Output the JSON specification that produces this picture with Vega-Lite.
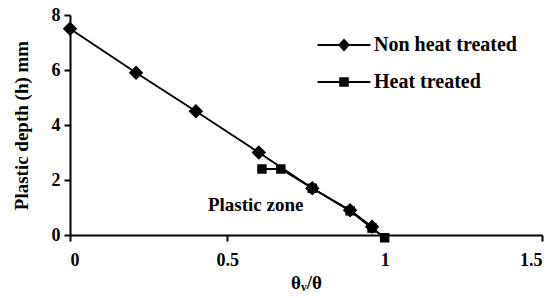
{
  "$schema": "https://vega.github.io/schema/vega-lite/v6.json",
  "width": 472,
  "height": 220,
  "autosize": {"type": "none"},
  "padding": {"left": 70, "top": 15, "right": 16, "bottom": 63},
  "background": "white",
  "config": {
    "view": {"stroke": null},
    "font": "Liberation Serif",
    "axis": {
      "grid": false,
      "domainColor": "black",
      "domainWidth": 2,
      "tickColor": "black",
      "tickWidth": 2,
      "tickSize": 6,
      "labelFont": "Liberation Serif",
      "labelFontWeight": "bold",
      "labelFontSize": 18,
      "labelColor": "black",
      "titleFont": "Liberation Serif",
      "titleFontWeight": "bold",
      "titleFontSize": 19,
      "titleColor": "black"
    }
  },
  "datasets": {
    "main": [
      {"series": "Non heat treated", "x": 0.0, "y": 7.5},
      {"series": "Non heat treated", "x": 0.21, "y": 5.9},
      {"series": "Non heat treated", "x": 0.4, "y": 4.5},
      {"series": "Non heat treated", "x": 0.6, "y": 3.0},
      {"series": "Non heat treated", "x": 0.77, "y": 1.7},
      {"series": "Non heat treated", "x": 0.89, "y": 0.9},
      {"series": "Non heat treated", "x": 0.96, "y": 0.3},
      {"series": "Heat treated", "x": 0.61, "y": 2.4},
      {"series": "Heat treated", "x": 0.67, "y": 2.4},
      {"series": "Heat treated", "x": 0.77, "y": 1.7},
      {"series": "Heat treated", "x": 0.89, "y": 0.88},
      {"series": "Heat treated", "x": 0.96, "y": 0.25},
      {"series": "Heat treated", "x": 1.0, "y": -0.1}
    ],
    "notes": [
      {"x": 0.59, "y": 1.1, "label": "Plastic zone"}
    ]
  },
  "layer": [
    {
      "data": {"name": "main"},
      "mark": {"type": "line", "color": "black", "strokeWidth": 2},
      "encoding": {
        "x": {"field": "x", "type": "quantitative", "scale": {"domain": [0, 1.5], "nice": false},
              "axis": {"values": [0, 0.5, 1, 1.5], "format": "~g", "title": "θᵥ/θ", "labelPadding": 10, "titlePadding": 4}},
        "y": {"field": "y", "type": "quantitative", "scale": {"domain": [0, 8], "nice": false},
              "axis": {"values": [0, 2, 4, 6, 8], "title": "Plastic depth (h) mm", "labelPadding": 4, "titlePadding": 20}},
        "detail": {"field": "series"}
      }
    },
    {
      "data": {"name": "main"},
      "mark": {"type": "point", "filled": true, "color": "black", "opacity": 1},
      "encoding": {
        "x": {"field": "x", "type": "quantitative"},
        "y": {"field": "y", "type": "quantitative"},
        "shape": {"field": "series", "type": "nominal",
                  "scale": {"domain": ["Non heat treated", "Heat treated"], "range": ["diamond", "square"]},
                  "legend": null},
        "size": {"field": "series", "type": "nominal",
                 "scale": {"domain": ["Non heat treated", "Heat treated"], "range": [210, 90]},
                 "legend": null}
      }
    },
    {
      "data": {"name": "main"},
      "mark": {"type": "point", "filled": true, "color": "black", "opacity": 0},
      "encoding": {
        "x": {"field": "x", "type": "quantitative"},
        "y": {"field": "y", "type": "quantitative"},
        "shape": {"field": "series", "type": "nominal",
                  "scale": {"domain": ["Non heat treated", "Heat treated"],
                            "range": ["M-2.2,-0.085H-0.42L0,-0.55L0.42,-0.085H2.2V0.085H0.42L0,0.55L-0.42,0.085H-2.2Z", "M-2.2,-0.085H-0.4V-0.4H0.4V-0.085H2.2V0.085H0.4V0.4H-0.4V0.085H-2.2Z"]},
                  "legend": {
                    "title": null,
                    "orient": "none",
                    "legendX": 262,
                    "legendY": 18,
                    "symbolSize": 576,
                    "symbolOpacity": 1,
                    "symbolFillColor": "black",
                    "symbolStrokeColor": "black",
                    "symbolStrokeWidth": 0,
                    "labelFont": "Liberation Serif",
                    "labelFontWeight": "bold",
                    "labelFontSize": 20,
                    "labelColor": "black",
                    "labelOffset": 18,
                    "rowPadding": 15,
                    "encode": {
                      "symbols": {"update": {"fill": {"value": "black"}, "opacity": {"value": 1}}}
                    }
                  }}
      }
    },
    {
      "data": {"name": "notes"},
      "mark": {"type": "text", "font": "Liberation Serif", "fontWeight": "bold", "fontSize": 19, "color": "black", "align": "center", "baseline": "middle"},
      "encoding": {
        "x": {"field": "x", "type": "quantitative"},
        "y": {"field": "y", "type": "quantitative"},
        "text": {"field": "label"}
      }
    }
  ],
  "resolve": {"scale": {"shape": "independent", "size": "independent"}}
}
